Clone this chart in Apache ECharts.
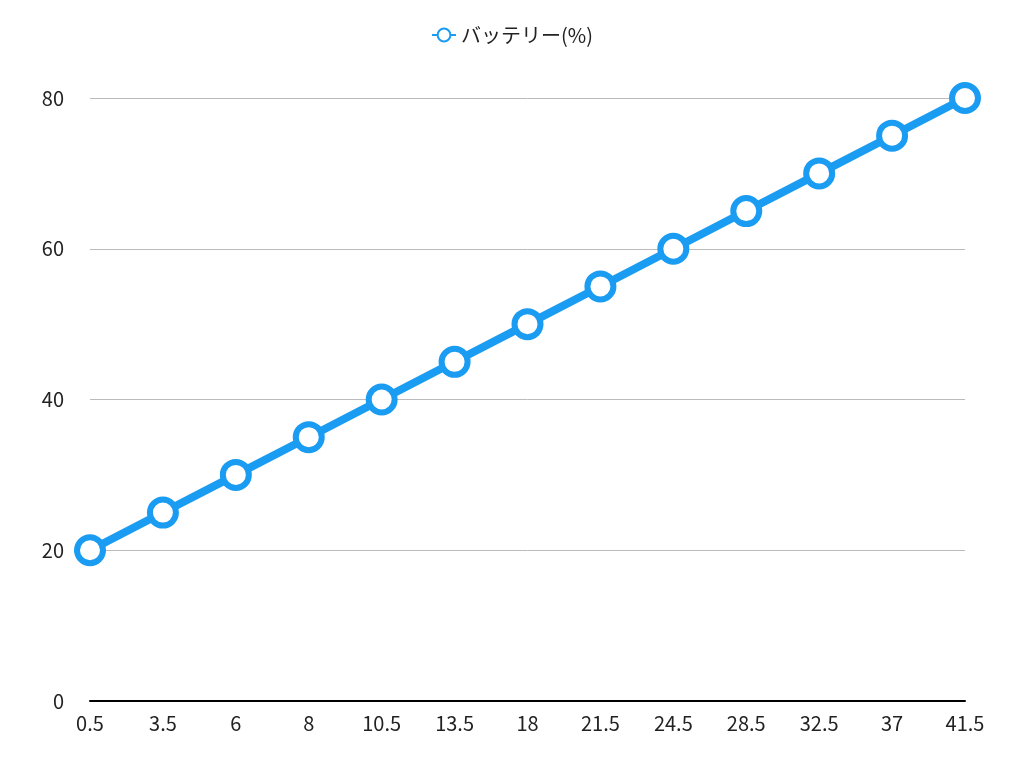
<!DOCTYPE html>
<html>
<head>
    <meta charset="utf-8">
    <script src="https://cdn.jsdelivr.net/npm/echarts@6/dist/echarts.min.js"></script>
</head>
<body style="margin:0">
<div id="main" style="width: 1024px;height:780px;"></div>
<script>
    var hours = ['0.5', '3.5', '6', '8', '10.5', '13.5', '18', '21.5', '24.5', '28.5', '32.5', '37', '41.5'];
    var battery = [20, 25, 30, 35, 40, 45, 50, 55, 60, 65, 70, 75, 80];

    var myChart = echarts.init(document.getElementById('main'));
    var option = {
        animation: false,
        textStyle: { fontFamily: 'Noto Sans CJK JP' },
        legend: {
            top: 20,
            itemWidth: 24,
            itemHeight: 16,
            textStyle: { fontSize: 20, color: '#222' },
            data: ['バッテリー(%)']
        },
        grid: { left: 90, right: 59, top: 98, bottom: 79 },
        xAxis: {
            type: 'category',
            boundaryGap: false,
            data: hours,
            axisLine: { lineStyle: { color: '#000', width: 2 } },
            axisTick: { show: false },
            axisLabel: { fontSize: 20, color: '#222', margin: 12 }
        },
        yAxis: {
            type: 'value',
            min: 0,
            max: 80,
            interval: 20,
            axisLine: { show: false },
            axisTick: { show: false },
            axisLabel: { fontSize: 20, color: '#222', margin: 26 },
            splitLine: { lineStyle: { color: '#bbb' } }
        },
        series: [{
            name: 'バッテリー(%)',
            type: 'line',
            data: battery,
            symbol: 'circle',
            symbolSize: 26,
            lineStyle: { color: '#1a9cf2', width: 8 },
            itemStyle: { color: '#fff', borderColor: '#1a9cf2', borderWidth: 6 }
        }]
    };
    myChart.setOption(option);
</script>
</body>
</html>
